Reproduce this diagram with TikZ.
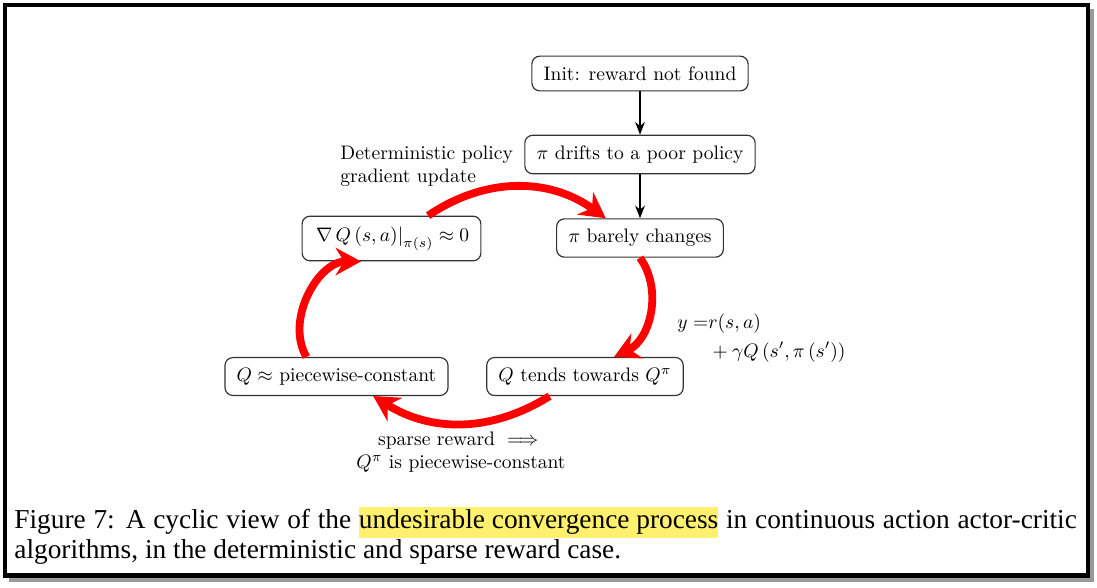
\documentclass[tikz,border=0pt]{standalone}
\usepackage{amsmath}
\usepackage{fontspec}
\newfontfamily\capfont{Liberation Serif}
\usetikzlibrary{arrows.meta}
\definecolor{hlyellow}{RGB}{255,240,110}

\begin{document}
\begin{tikzpicture}[x=0.512pt, y=0.512pt,
		state/.style={draw=black!80, line width=0.6pt, rounded corners=4pt, inner xsep=6pt, inner ysep=5.3pt},
		flow/.style={-{Stealth[length=6.5pt,width=5pt]}, line width=0.7pt},
		cyc/.style={red, line width=4pt, -{Stealth[length=13pt,width=14pt]}, bend left=#1},
		cyc/.default=40,
		lbl/.style={inner sep=0pt},
	]
	\useasboundingbox (0,0) rectangle (1097,-587);
	% frame and its shadow
	\fill[black!40] (9,-9) rectangle (1094,-582);
	\draw[line width=2.3pt, fill=white] (5,-5) rectangle (1088,-575.5);

	\node[state] (init) at (640,-73.5) {Init: reward not found};
	\node[state] (drift) at (640,-154.5) {$\pi$ drifts to a poor policy};
	\node[state] (barely) at (640,-238) {$\pi$ barely changes};
	\node[state] (grad) at (391.5,-238.5) {$\left.\nabla\, Q\left(s,a\right)\right|_{\pi(s)} \approx 0$};
	\node[state] (pwc) at (336.5,-376.5) {$Q \approx$ piecewise-constant};
	\node[state] (tends) at (585,-376.5) {$Q$ tends towards $Q^{\pi}$};

	\draw[flow] (init) -- (drift);
	\draw[flow] (drift) -- (barely);
	\draw[cyc=35] (grad.32) to (barely.150);
	\draw[cyc=50] (barely.south) to (tends.34);
	\draw[cyc=32] (tends.209) to (pwc.332);
	\draw[cyc=60] (pwc.147) to (grad.217);

	\node[lbl, anchor=west, align=left] (dpglbl) at (340,-166) {Deterministic policy\\gradient update};
	\node[lbl, anchor=west] (bellmanlbl) at (677,-338) {$\begin{aligned} y =& r(s,a)\\ &+\gamma Q\left(s',\pi\left(s'\right)\right)\end{aligned}$};
	\node[lbl, align=center] (sparselbl) at (461,-452) {sparse reward $\implies$\\$Q^{\pi}$ is piecewise-constant};

	\node[lbl, anchor=north west, text width=544pt, align=justify, font={\capfont\fontsize{14pt}{15.5pt}\selectfont}] (caption) at (14,-507) {Figure 7: A cyclic view of the {\fboxsep=0pt\colorbox{hlyellow}{\strut undesirable convergence process}} in continuous action actor-critic\linebreak algorithms, in the deterministic and sparse reward case.};
\end{tikzpicture}
\end{document}
